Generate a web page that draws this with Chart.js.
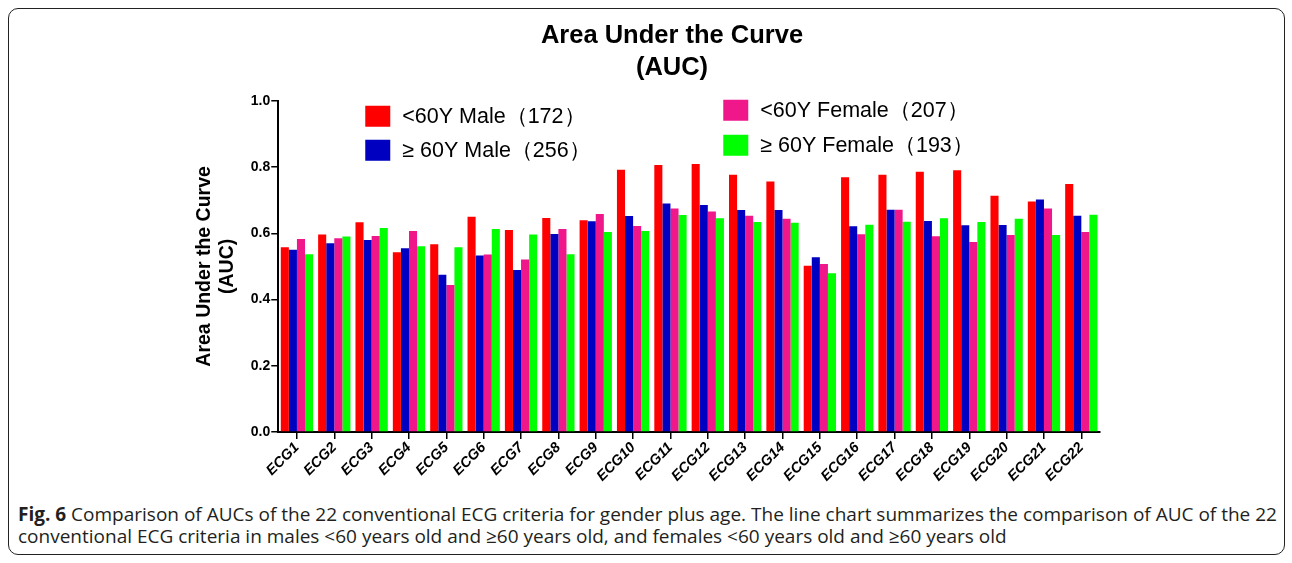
<!DOCTYPE html>
<html>
<head>
<meta charset="utf-8">
<script src="https://cdn.jsdelivr.net/npm/chart.js@4.4.1/dist/chart.umd.min.js"></script>
<style>
  html, body { margin: 0; padding: 0; background: #fff; }
  body { width: 1292px; height: 563px; position: relative; overflow: hidden; }
  #frame {
    position: absolute; left: 8px; top: 8px; width: 1275px; height: 545px;
    border: 1.5px solid #222; border-radius: 10px;
  }
  #wrap { position: absolute; left: 0; top: 0; width: 1292px; height: 492px; }
  #caption {
    position: absolute; left: 18px; top: 503px; width: 1270px; white-space: nowrap;
    font-family: "Open Sans", sans-serif; font-size: 19px; line-height: 22px; color: #231f20;
  }
</style>
</head>
<body>
<div id="frame"></div>
<div id="wrap"><canvas id="aucChart"></canvas></div>
<div id="caption"><b>Fig. 6</b> Comparison of AUCs of the 22 conventional ECG criteria for gender plus age. The line chart summarizes the comparison of AUC of the 22<br>conventional ECG criteria in males &lt;60 years old and ≥60 years old, and females &lt;60 years old and ≥60 years old</div>
<script>
// categories
const criteres = ['ECG1','ECG2','ECG3','ECG4','ECG5','ECG6','ECG7','ECG8','ECG9','ECG10','ECG11',
                  'ECG12','ECG13','ECG14','ECG15','ECG16','ECG17','ECG18','ECG19','ECG20','ECG21','ECG22'];

// AUC par groupe
const maleUnder60   = [0.558,0.596,0.633,0.543,0.567,0.650,0.610,0.646,0.639,0.792,0.806,0.809,0.777,0.756,0.502,0.769,0.777,0.786,0.790,0.713,0.696,0.749];
const maleOver60    = [0.550,0.570,0.580,0.555,0.475,0.533,0.489,0.598,0.636,0.652,0.690,0.685,0.670,0.670,0.528,0.621,0.671,0.637,0.624,0.625,0.702,0.653];
const femaleUnder60 = [0.583,0.585,0.592,0.607,0.444,0.536,0.521,0.613,0.658,0.622,0.675,0.666,0.653,0.644,0.507,0.597,0.671,0.591,0.574,0.595,0.675,0.604];
const femaleOver60  = [0.537,0.590,0.616,0.561,0.558,0.613,0.596,0.537,0.604,0.607,0.655,0.645,0.634,0.632,0.479,0.626,0.635,0.645,0.634,0.644,0.595,0.656];

const groupLabels = ['<60Y Male（172）', '≥ 60Y Male（256）', '<60Y Female（207）', '≥ 60Y Female（193）'];
const yTicks = [0, 0.2, 0.4, 0.6, 0.8, 1.0];

const couleurs = ['#ff0000', '#0000c0', '#f0178a', '#00ff00'];
const police = '"Liberation Sans", Arial, sans-serif';

// légende sur deux colonnes, dessinée dans la zone du graphique
const legendeDeuxColonnes = {
    id: 'legendeDeuxColonnes',
    afterLayout(chart) {
        // le titre est centré sur la page, pas sur la zone rembourrée
        const t = chart.titleBlock;
        const decalage = 672 - (t.left + t.right) / 2;
        t.left += decalage;
        t.right += decalage;
    },
    afterDatasetsDraw(chart) {
        const ctx = chart.ctx;
        const a = chart.chartArea;
        // [index du dataset, décalage x, décalage y du carré]
        const places = [[0, 87, 5], [1, 87, 39], [2, 445, -1], [3, 445, 34]];
        ctx.save();
        ctx.font = '21.5px ' + police;
        ctx.textBaseline = 'middle';
        places.forEach(([i, dx, dy]) => {
            const ds = chart.data.datasets[i];
            const x = a.left + dx;
            const y = a.top + dy;
            ctx.fillStyle = ds.backgroundColor;
            ctx.fillRect(x, y, 25, 21);
            ctx.fillStyle = '#000';
            ctx.fillText(ds.label, x + 37, y + 11);
        });
        ctx.restore();
    }
};

const series = [maleUnder60, maleOver60, femaleUnder60, femaleOver60];

let ctx = document.getElementById('aucChart').getContext('2d');
let aucChart = new Chart(ctx, {
    type: 'bar',
    data: {
        labels: criteres,
        datasets: series.map((valeurs, i) => ({
            label: groupLabels[i],
            data: valeurs,
            backgroundColor: couleurs[i],
            borderWidth: 0,
            barPercentage: 1.0,
            categoryPercentage: 0.865
        }))
    },
    options: {
        responsive: true,
        maintainAspectRatio: false,
        animation: false,
        layout: { padding: { left: 193, right: 192, top: 0, bottom: 7 } },
        plugins: {
            legend: { display: false },
            tooltip: { enabled: false },
            title: {
                display: true,
                text: ['Area Under the Curve', '(AUC)'],
                color: '#000',
                font: { family: police, size: 25.5, weight: 'bold', lineHeight: 1.25 },
                padding: { top: 20, bottom: 17 }
            }
        },
        scales: {
            x: {
                border: { color: '#000', width: 2 },
                grid: { display: true, offset: false, drawOnChartArea: false, drawTicks: true, tickLength: 7, color: '#000', lineWidth: 1.5 },
                ticks: {
                    color: '#000',
                    maxRotation: 45, minRotation: 45,
                    autoSkip: false,
                    padding: 0,
                    font: { family: police, size: 14.5, weight: 'bold', style: 'italic' }
                }
            },
            y: {
                min: 0, max: 1,
                afterBuildTicks: (scale) => { scale.ticks = yTicks.map(v => ({ value: v })); },
                border: { color: '#000', width: 2 },
                grid: { display: true, drawOnChartArea: false, drawTicks: true, tickLength: 7, color: '#000', lineWidth: 1.5 },
                ticks: {
                    color: '#000',
                    padding: 1,
                    callback: (v) => Number(v).toFixed(1),
                    font: { family: police, size: 14, weight: 'bold' }
                },
                title: {
                    display: true,
                    text: ['Area Under the Curve', '(AUC)'],
                    color: '#000',
                    font: { family: police, size: 19.5, weight: 'bold', lineHeight: 1.2 },
                    padding: { top: 0, bottom: 10 }
                }
            }
        }
    },
    plugins: [legendeDeuxColonnes]
});
</script>
</body>
</html>
